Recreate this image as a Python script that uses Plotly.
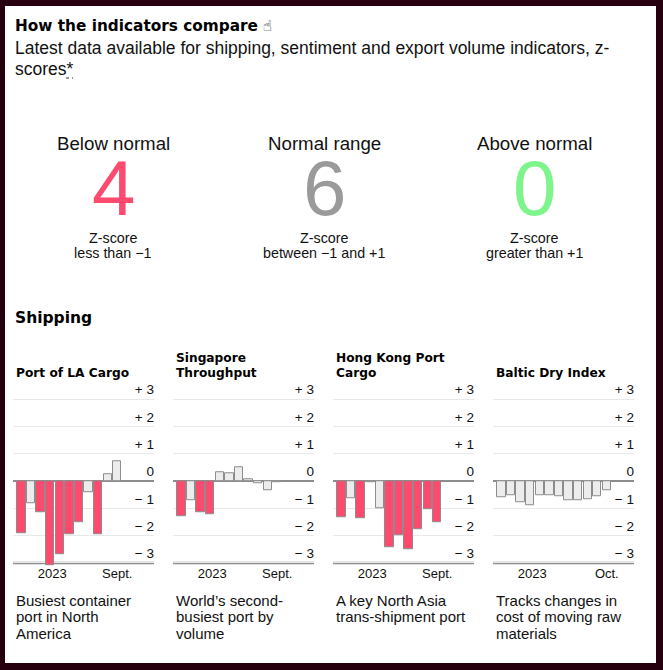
import plotly.graph_objects as go

# canvas size in px
W, H = 663, 670

# --- data ---
summary_labels = ["Below normal", "Normal range", "Above normal"]
summary_counts = [4, 6, 0]
summary_notes = [
    ["Z-score", "less than \u22121"],
    ["Z-score", "between \u22121 and +1"],
    ["Z-score", "greater than +1"],
]

panel_titles = [
    ["Port of LA Cargo"],
    ["Singapore", "Throughput"],
    ["Hong Kong Port", "Cargo"],
    ["Baltic Dry Index"],
]
panel_notes = [
    ["Busiest container", "port in North", "America"],
    ["World\u2019s second-", "busiest port by", "volume"],
    ["A key North Asia", "trans-shipment port"],
    ["Tracks changes in", "cost of moving raw", "materials"],
]

la_cargo = [-1.90, -0.83, -1.15, -3.09, -2.68, -1.94, -1.50, -0.40, -1.96, 0.26, 0.73]
singapore = [-1.29, -0.72, -1.15, -1.22, 0.33, 0.27, 0.49, 0.08, -0.10, -0.35, -0.06]
hk_cargo = [-1.32, -0.62, -1.38, -0.05, -0.99, -2.41, -1.98, -2.51, -1.77, -1.05, -1.52]
baltic_dry = [-0.60, -0.52, -0.78, -0.89, -0.52, -0.51, -0.54, -0.71, -0.72, -0.67, -0.56, -0.34]
panel_values = [la_cargo, singapore, hk_cargo, baltic_dry]

x_tick_pos = [[3.2, 10], [3.2, 10], [3.2, 10], [3.2, 11]]
x_tick_text = [["2023", "Sept."], ["2023", "Sept."], ["2023", "Sept."], ["2023", "Oct."]]
y_ticks = [-3, -2, -1, 0, 1, 2, 3]
y_tick_text = ["\u2212 3", "\u2212 2", "\u2212 1", "0", "+ 1", "+ 2", "+ 3"]

# --- styling ---
FRAME = "#27000f"
RED = "#fe4a6e"
GREY = "#ececec"
OUTLINE = "#8c8c8c"
BOLD = "DejaVu Sans"
REG = "Liberation Sans, Arial, sans-serif"
count_colors = [RED, "#9a9a9a", "#7df58b"]

UNIT = 27.33          # px per z-score unit
Y_TOP, Y_BOT = 3.65, -3.15
ZERO_PX = 481         # pixel row of the zero line


def px(x):
    return x / W


def py(y):
    return 1 - y / H


def label(text, x, y, size, family=REG, color="#111", anchor="left", yanchor="middle"):
    return dict(text=text, x=px(x), y=py(y), xref="paper", yref="paper",
                showarrow=False, xanchor=anchor, yanchor=yanchor,
                font=dict(family=family, size=size, color=color))


def bar_color(v):
    if v < -1:
        return RED
    if v > 1:
        return "#7df58b"
    return GREY


fig = go.Figure()
annotations = []
shapes = []

# white card on dark frame
shapes.append(dict(type="rect", xref="paper", yref="paper", x0=px(5), x1=px(656),
                   y0=py(663), y1=py(6), fillcolor="white", line_width=0, layer="below"))

# header
annotations.append(label("<b>How the indicators compare</b> <b>\u261d</b>", 13, 26, 15.3, BOLD, color="#000"))
annotations.append(label("Latest data available for shipping, sentiment and export volume indicators, z-",
                         13, 48, 17.5))
annotations.append(label("scores*", 13, 69, 17.5))
shapes.append(dict(type="line", xref="paper", yref="paper", x0=px(66), x1=px(73),
                   y0=py(78), y1=py(78), line=dict(color="#333", width=1, dash="dot")))

# summary counts
col_x = [113, 324, 534]
for cx, lab, n, note, c in zip(col_x, summary_labels, summary_counts, summary_notes, count_colors):
    annotations.append(label(lab, cx, 143, 18.7, anchor="center"))
    annotations.append(label(str(n), cx, 188, 78, color=c, anchor="center"))
    annotations.append(label(note[0], cx, 237.5, 14.3, anchor="center"))
    annotations.append(label(note[1], cx, 252.5, 14.3, anchor="center"))

annotations.append(label("<b>Shipping</b>", 13, 318, 15.5, BOLD, color="#000"))

# small multiples
lefts = [13, 173, 333, 493]
plot_w = 141
layout_axes = {}
for i, vals in enumerate(panel_values):
    n = i + 1
    xa = "x" if n == 1 else f"x{n}"
    ya = "y" if n == 1 else f"y{n}"
    fig.add_trace(go.Bar(
        x=list(range(len(vals))), y=vals, width=0.87,
        marker=dict(color=[bar_color(v) for v in vals], line=dict(color=OUTLINE, width=1)),
        xaxis=xa, yaxis=ya, showlegend=False, hoverinfo="skip",
    ))
    left = lefts[i]
    layout_axes[f"xaxis{n}"] = dict(
        domain=[px(left), px(left + plot_w)], anchor=ya, range=[-0.888, 13.84],
        showgrid=False, zeroline=False, showline=False, ticks="",
        tickvals=x_tick_pos[i], ticktext=x_tick_text[i], ticklabelstandoff=-3,
        tickfont=dict(family=REG, size=13, color="#111"), fixedrange=True,
    )
    layout_axes[f"yaxis{n}"] = dict(
        domain=[py(ZERO_PX - Y_BOT * UNIT), py(ZERO_PX - Y_TOP * UNIT)],
        anchor=xa, range=[Y_BOT, Y_TOP], side="right",
        tickvals=y_ticks, ticktext=y_tick_text, ticklabelposition="inside top",
        ticklabelstandoff=-3,
        tickfont=dict(family=REG, size=13.5, color="#111"),
        showgrid=True, gridcolor="#e8e8e8", gridwidth=1,
        zeroline=True, zerolinecolor=OUTLINE, zerolinewidth=2,
        showline=False, ticks="", fixedrange=True,
    )
    shapes.append(dict(type="line", xref=f"{xa} domain", yref=ya, x0=0, x1=1, y0=-3, y1=-3,
                       line=dict(color=OUTLINE, width=2.5), layer="below"))

    title = panel_titles[i]
    for k, t in enumerate(title):
        annotations.append(label(f"<b>{t}</b>", left + 1, 373 - 15 * (len(title) - 1 - k), 12.2,
                                 BOLD, color="#000"))
    for k, t in enumerate(panel_notes[i]):
        annotations.append(label(t, left + 1, 600 + 16.7 * k, 15))

fig.update_layout(
    width=W, height=H, margin=dict(l=0, r=0, t=0, b=0),
    paper_bgcolor=FRAME, plot_bgcolor="rgba(0,0,0,0)",
    bargap=0, annotations=annotations, shapes=shapes,
    **layout_axes,
)

fig.write_html("out.html", config={"displayModeBar": False},
               post_script="document.body.style.margin = '0';")
